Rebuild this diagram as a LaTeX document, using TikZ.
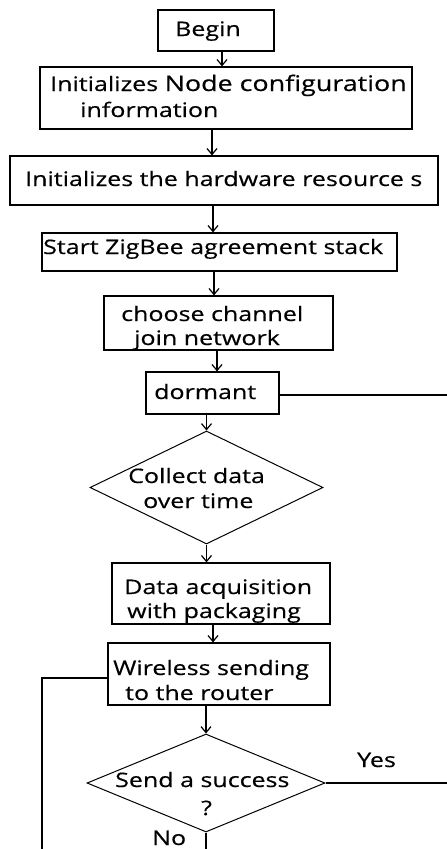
\documentclass[tikz,border=0pt]{standalone}
\usepackage{fontspec}
\setmainfont{Open Sans}[FakeStretch=1.25,FakeBold=0.4]
\usetikzlibrary{shapes.geometric,arrows.meta}
\begin{document}
\begin{tikzpicture}[x=1pt,y=-1pt,
  box/.style={draw, line width=1.2pt, inner sep=0pt, rectangle},
  dia/.style={draw, line width=1pt, diamond, inner sep=0pt},
  txt/.style={anchor=base west, inner sep=0pt, font=\fontsize{20}{24}\selectfont},
  arr/.style={line width=1.2pt, -{Straight Barb[length=6pt,width=10pt]}},
  ln/.style={line width=1.2pt}]
\useasboundingbox (0,0) rectangle (447,849);
\fill[white] (0,0) rectangle (447,849);
% boxes
\node[box, minimum width=116pt, minimum height=41pt] (begin) at (216,30.5) {};
\node[box, minimum width=372pt, minimum height=62pt] (config) at (226,98) {};
\node[box, minimum width=428pt, minimum height=49pt] (hw) at (224,180.5) {};
\node[box, minimum width=355pt, minimum height=38pt] (zig) at (219.5,252) {};
\node[box, minimum width=229pt, minimum height=54pt] (choose) at (218.5,323) {};
\node[box, minimum width=133pt, minimum height=42pt] (dormant) at (212.5,393) {};
\node[dia, minimum width=233pt, minimum height=113pt] (d1) at (206.5,487.5) {};
\node[box, minimum width=218pt, minimum height=61pt] (data) at (221,593.5) {};
\node[box, minimum width=222pt, minimum height=62pt] (wireless) at (219,674) {};
\node[dia, minimum width=238pt, minimum height=98pt] (d2) at (206,783) {};
% texts
\node[txt] (tbegin) at (175,36) {Begin};
\node[txt] (tc1) at (50,91) {Initializes {\fontsize{21.5}{24}\selectfont Node configuration}};
\node[txt] (tc2) at (80,117) {information};
\node[txt] (thw) at (25,186) {Initializes the hardware resource s};
\node[txt] (tzig) at (43,254) {Start ZigBee agreement stack};
\node[txt] (tch1) at (121,321) {choose channel};
\node[txt] (tch2) at (134,345) {join network};
\node[txt] (tdor) at (154,399) {dormant};
\node[txt] (td11) at (128,483) {Collect data};
\node[txt] (td12) at (143,508) {over time};
\node[txt] (tda1) at (124,594) {Data acquisition};
\node[txt] (tda2) at (127,618) {with packaging};
\node[txt] (tw1) at (113,675) {Wireless sending};
\node[txt] (tw2) at (125,700) {to the router};
\node[txt] (td21) at (115,787) {Send a success};
\node[txt] (td22) at (201,815) {?};
\node[txt] (tyes) at (357,767) {Yes};
\node[txt] (tno) at (152,845) {No};
% arrows
\draw[arr] ([xshift=6pt]begin.south) -- ([xshift=6pt]begin.south |- config.north);
\draw[arr] ([xshift=-14pt]config.south) -- ([xshift=-14pt]config.south |- hw.north);
\draw[arr] ([xshift=-11pt]hw.south) -- ([xshift=-11pt]hw.south |- zig.north);
\draw[arr] ([xshift=-5.5pt]zig.south) -- ([xshift=-5.5pt]zig.south |- choose.north);
\draw[arr] ([xshift=-1.5pt]choose.south) -- ([xshift=-1.5pt]choose.south |- dormant.north);
\draw[arr] (d1.north |- dormant.south) -- (d1.north);
\draw[arr] (d1.south) -- (d1.south |- data.north);
\draw[arr] ([xshift=-8pt]data.south) -- ([xshift=-8pt]data.south |- wireless.north);
\draw[arr] (d2.north |- wireless.south) -- (d2.north);
% other lines
\coordinate (re1) at (447,395);
\coordinate (lb) at (42,849);
\coordinate (ry) at (447,783);
\coordinate (nb) at (206,849);
\draw[ln] (dormant.east |- re1) -- (re1);
\draw[ln] ([yshift=-4pt]wireless.west) -| (lb);
\draw[ln] (d2.east) -- (ry);
\draw[ln] (d2.south) -- (nb);
\end{tikzpicture}
\end{document}
